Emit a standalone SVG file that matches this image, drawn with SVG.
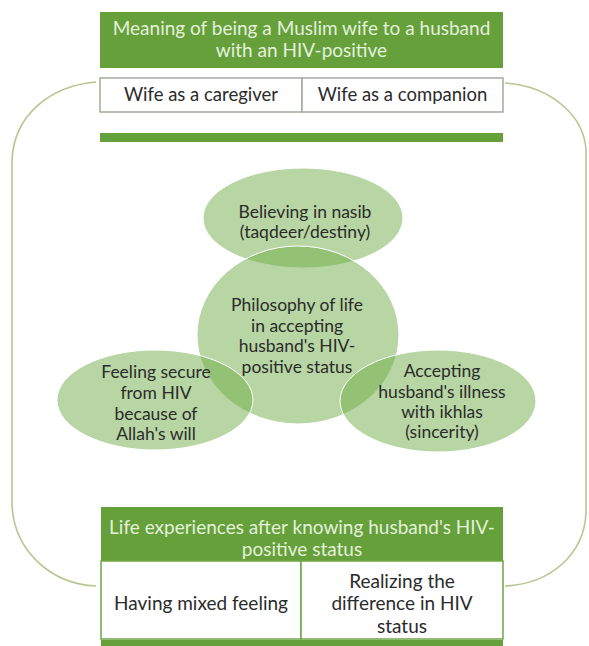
<svg xmlns="http://www.w3.org/2000/svg" width="589" height="646" viewBox="0 0 589 646">
<style>
.hdr{fill:#65a03a}
.hdrt{fill:#e4f0dc;font-family:Lato,"Liberation Sans",sans-serif;font-size:19px;text-anchor:middle}
.cellg{fill:#ffffff;stroke:#a3aa9c;stroke-width:1.5}
.cellb{fill:#ffffff;stroke:#6fa544;stroke-width:1.5}
.t{fill:#2b2b2b;font-family:Lato,"Liberation Sans",sans-serif;font-size:19px;text-anchor:middle}
.v{fill:#2b2b2b;font-family:Lato,"Liberation Sans",sans-serif;font-size:17.5px;text-anchor:middle}
.venn{fill:#70ad47;fill-opacity:0.5;stroke:#ffffff;stroke-width:1}
.br{fill:none;stroke:#b3c78e;stroke-width:1.6}
</style>
<rect width="589" height="646" fill="#ffffff"/>
<g id="connectors">
<path class="br" d="M96,82 C50,86 14,115 12,160 L12,505 C14,550 50,584 96,586"/>
<path class="br" d="M505,83 C550,86 584,115 586,150 L586,513 C584,555 550,584 505,586"/>
</g>
<g id="meaning">
<rect class="hdr" x="100" y="12" width="403" height="56"/>
<text class="hdrt" x="301.5" y="35">Meaning of being a Muslim wife to a husband</text>
<text class="hdrt" x="301.5" y="57">with an HIV-positive</text>
</g>
<g id="caregiver">
<rect class="cellg" x="100" y="78" width="202" height="34"/>
<text class="t" x="201" y="101" style="font-size:18.5px">Wife as a caregiver</text>
</g>
<g id="companion">
<rect class="cellg" x="302" y="78" width="201" height="34"/>
<text class="t" x="402.5" y="101" style="font-size:18.5px">Wife as a companion</text>
</g>
<g id="bar-top">
<rect class="hdr" x="100" y="133" width="403" height="9"/>
</g>
<g id="nasib">
<ellipse class="venn" cx="303" cy="218" rx="100" ry="50"/>
<text class="v" x="305" y="218">Believing in nasib</text>
<text class="v" x="305" y="238">(taqdeer/destiny)</text>
</g>
<g id="philosophy">
<ellipse class="venn" cx="298" cy="335" rx="101" ry="89"/>
<text class="v" x="297" y="311">Philosophy of life</text>
<text class="v" x="297" y="332">in accepting</text>
<text class="v" x="297" y="352">husband's HIV-</text>
<text class="v" x="297" y="373">positive status</text>
</g>
<g id="secure">
<ellipse class="venn" cx="155" cy="400" rx="98" ry="50"/>
<text class="v" x="156" y="378">Feeling secure</text>
<text class="v" x="156" y="399">from HIV</text>
<text class="v" x="156" y="420">because of</text>
<text class="v" x="156" y="440">Allah's will</text>
</g>
<g id="ikhlas">
<ellipse class="venn" cx="438" cy="401" rx="98" ry="51"/>
<text class="v" x="442" y="377">Accepting</text>
<text class="v" x="442" y="398">husband's illness</text>
<text class="v" x="442" y="418">with ikhlas</text>
<text class="v" x="442" y="438">(sincerity)</text>
</g>
<g id="experiences">
<rect class="hdr" x="101" y="507" width="402" height="54"/>
<text class="hdrt" x="302" y="534">Life experiences after knowing husband's HIV-</text>
<text class="hdrt" x="302" y="556">positive status</text>
</g>
<g id="mixed">
<rect class="cellb" x="101" y="561" width="200" height="78"/>
<text class="t" x="201" y="610">Having mixed feeling</text>
</g>
<g id="difference">
<rect class="cellb" x="301" y="561" width="202" height="78"/>
<text class="t" x="402" y="588">Realizing the</text>
<text class="t" x="402" y="610">difference in HIV</text>
<text class="t" x="402" y="633">status</text>
</g>
<g id="bar-bottom">
<rect class="hdr" x="101" y="640" width="402" height="6"/>
</g>
</svg>
